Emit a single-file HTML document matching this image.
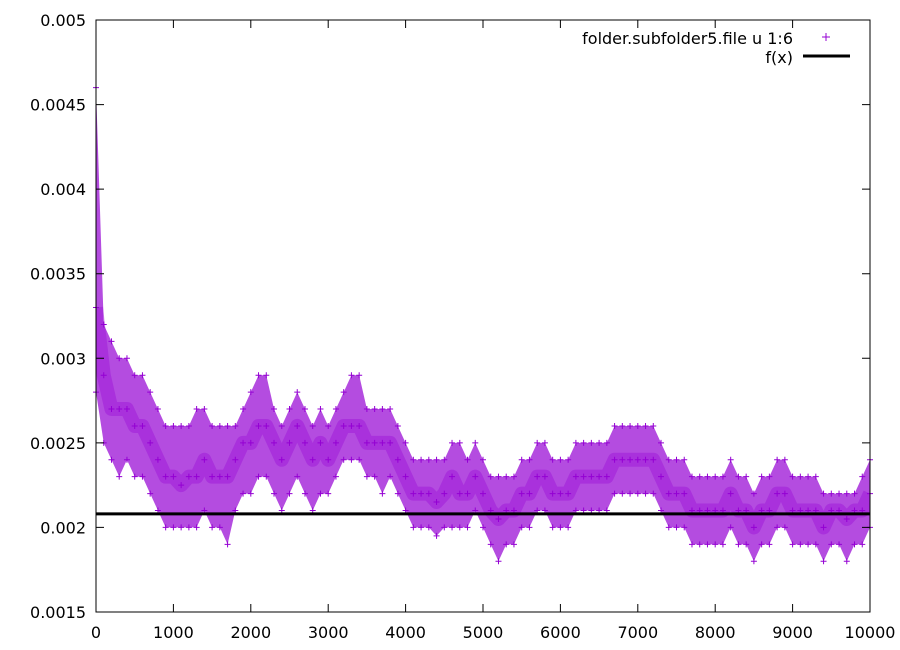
<!DOCTYPE html>
<html><head><meta charset="utf-8"><style>
html,body{margin:0;padding:0;background:#fff;}
svg{display:block;font-family:"DejaVu Sans","Liberation Sans",sans-serif;}
</style></head><body>
<svg id="chart" width="900" height="650">
<defs><clipPath id="pa"><rect x="96" y="20" width="774" height="592"/></clipPath></defs>
<rect x="0" y="0" width="900" height="650" fill="#fff"/>
<g id="band" clip-path="url(#pa)"></g>
<g id="points"></g>
<g id="fx"></g>
<g id="axes"></g>
<g>
<text x="793" y="44" text-anchor="end" font-size="16">folder.subfolder5.file u 1:6</text>
<path d="M822 37h8M826 33v8" stroke="#9400d3" stroke-width="1"/>
<text x="793" y="63" text-anchor="end" font-size="16">f(x)</text>
<line x1="803" y1="56" x2="850" y2="56" stroke="#000" stroke-width="3"/>
</g>
</svg>
<script>
const xs = [0,100,200,300,400,500,600,700,800,900,1000,1100,1200,1300,1400,1500,1600,1700,1800,1900,2000,2100,2200,2300,2400,2500,2600,2700,2800,2900,3000,3100,3200,3300,3400,3500,3600,3700,3800,3900,4000,4100,4200,4300,4400,4500,4600,4700,4800,4900,5000,5100,5200,5300,5400,5500,5600,5700,5800,5900,6000,6100,6200,6300,6400,6500,6600,6700,6800,6900,7000,7100,7200,7300,7400,7500,7600,7700,7800,7900,8000,8100,8200,8300,8400,8500,8600,8700,8800,8900,9000,9100,9200,9300,9400,9500,9600,9700,9800,9900,10000];
const mid = [.0033,.0029,.0027,.0027,.0027,.0026,.0026,.0025,.0024,.0023,.0023,.00225,.0023,.0023,.0024,.0023,.0023,.0023,.0024,.0025,.0025,.0026,.0026,.0025,.0024,.0025,.0026,.0025,.0024,.0025,.0024,.0025,.0026,.0026,.0026,.0025,.0025,.0025,.0025,.0024,.0023,.0022,.0022,.0022,.00215,.0022,.0023,.0022,.0022,.0023,.0022,.0021,.00205,.0021,.0021,.0022,.0022,.0023,.0023,.0022,.0022,.0022,.0023,.0023,.0023,.0023,.0023,.0024,.0024,.0024,.0024,.0024,.0024,.0023,.0022,.0022,.0022,.0021,.0021,.0021,.0021,.0021,.0022,.0021,.0021,.0020,.0021,.0021,.0022,.0022,.0021,.0021,.0021,.0021,.0020,.0021,.0021,.00205,.0021,.0021,.0022];
const lo = [.0028,.0025,.0024,.0023,.0024,.0023,.0023,.0022,.0021,.0020,.0020,.0020,.0020,.0020,.0021,.0020,.0020,.0019,.0021,.0022,.0022,.0023,.0023,.0022,.0021,.0022,.0023,.0022,.0021,.0022,.0022,.0023,.0024,.0024,.0024,.0023,.0023,.0022,.0023,.0022,.0021,.0020,.0020,.0020,.00195,.0020,.0020,.0020,.0020,.0021,.0020,.0019,.0018,.0019,.0019,.0020,.0020,.0021,.0021,.0020,.0020,.0020,.0021,.0021,.0021,.0021,.0021,.0022,.0022,.0022,.0022,.0022,.0022,.0021,.0020,.0020,.0020,.0019,.0019,.0019,.0019,.0019,.0020,.0019,.0019,.0018,.0019,.0019,.0020,.0020,.0019,.0019,.0019,.0019,.0018,.0019,.0019,.0018,.0019,.0019,.0020];
const hi = [.0046,.0032,.0031,.0030,.0030,.0029,.0029,.0028,.0027,.0026,.0026,.0026,.0026,.0027,.0027,.0026,.0026,.0026,.0026,.0027,.0028,.0029,.0029,.0027,.0026,.0027,.0028,.0027,.0026,.0027,.0026,.0027,.0028,.0029,.0029,.0027,.0027,.0027,.0027,.0026,.0025,.0024,.0024,.0024,.0024,.0024,.0025,.0025,.0024,.0025,.0024,.0023,.0023,.0023,.0023,.0024,.0024,.0025,.0025,.0024,.0024,.0024,.0025,.0025,.0025,.0025,.0025,.0026,.0026,.0026,.0026,.0026,.0026,.0025,.0024,.0024,.0024,.0023,.0023,.0023,.0023,.0023,.0024,.0023,.0023,.0022,.0023,.0023,.0024,.0024,.0023,.0023,.0023,.0023,.0022,.0022,.0022,.0022,.0022,.0023,.0024];
const fxValue = 0.00208;
const xTicks = [0,1000,2000,3000,4000,5000,6000,7000,8000,9000,10000];
const yTicks = [0.0015,0.002,0.0025,0.003,0.0035,0.004,0.0045,0.005];
const yTickLabels = ["0.0015","0.002","0.0025","0.003","0.0035","0.004","0.0045","0.005"];

const L=96,R=870,T=20,B=612, xMin=0,xMax=10000,yMin=0.0015,yMax=0.005;
const sx=v=>L+(v-xMin)/(xMax-xMin)*(R-L);
const sy=v=>B-(v-yMin)/(yMax-yMin)*(B-T);
const NS="http://www.w3.org/2000/svg";
function mk(tag,attrs,parent){const e=document.createElementNS(NS,tag);for(const k in attrs)e.setAttribute(k,attrs[k]);parent.appendChild(e);return e;}

const band=document.getElementById('band');
let d="M"+xs.map((x,i)=>sx(x)+" "+sy(hi[i])).join(" L")+" L"+xs.slice().reverse().map((x,j)=>{const i=xs.length-1-j;return sx(x)+" "+sy(lo[i]);}).join(" L")+"Z";
const bp=mk('path',{d:d,fill:'#9400d3','fill-opacity':'0.7'},band);


const ml=mk('polyline',{points:xs.map((x,i)=>sx(x)+","+sy(mid[i])).join(" "),fill:'none',stroke:'#9400d3','stroke-width':'14','stroke-opacity':'0.35','stroke-linejoin':'round'},band);



const pts=document.getElementById('points');
[lo,mid,hi].forEach(arr=>{
  xs.forEach((x,i)=>{
    const px=sx(x),py=sy(arr[i]);
    const p=mk('path',{d:`M${px-3} ${py}h6M${px} ${py-3}v6`,stroke:'#9400d3','stroke-width':'1'},pts);
    
    
  });
});

const fx=document.getElementById('fx');
const fl=mk('line',{x1:L,x2:R,y1:sy(fxValue),y2:sy(fxValue),stroke:'#000','stroke-width':'3'},fx);



const ax=document.getElementById('axes');
const fr=mk('rect',{x:L,y:T,width:R-L,height:B-T,fill:'none',stroke:'#000','stroke-width':'1'},ax);


xTicks.forEach(v=>{
  const x=sx(v);
  const t=mk('path',{d:`M${x} ${B}v-8M${x} ${T}v8`,stroke:'#000'},ax);
  
  
  const lb=mk('text',{x:x,y:B+26,'text-anchor':'middle','font-size':'16'},ax);
  lb.textContent=v;
  
  
});
yTicks.forEach((v,i)=>{
  const y=sy(v);
  const t=mk('path',{d:`M${L} ${y}h8M${R} ${y}h-8`,stroke:'#000'},ax);
  
  
  const lb=mk('text',{x:L-10,y:y+6,'text-anchor':'end','font-size':'16'},ax);
  lb.textContent=yTickLabels[i];
  
  
});
</script>
</body></html>
